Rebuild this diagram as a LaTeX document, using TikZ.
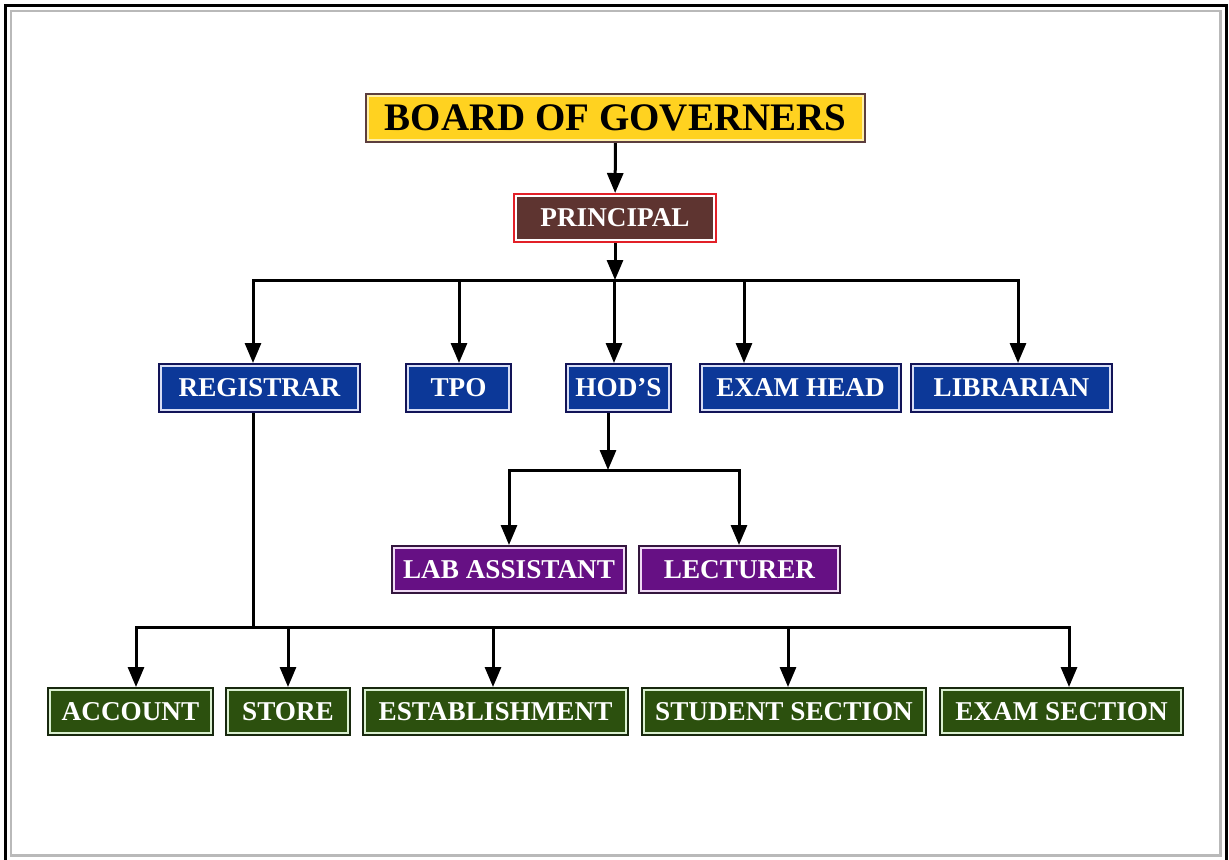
\documentclass[tikz,border=0pt]{standalone}
\usepackage{fontspec}
\setmainfont{Liberation Serif}
\usepackage{tikz}
\usetikzlibrary{arrows.meta}
\usetikzlibrary{positioning}

\definecolor{govfill}{RGB}{255,210,32}
\definecolor{govedge}{RGB}{92,62,62}
\definecolor{govline}{RGB}{255,240,170}
\definecolor{prinfill}{RGB}{94,52,48}
\definecolor{prinedge}{RGB}{226,32,40}
\definecolor{headfill}{RGB}{12,56,152}
\definecolor{headedge}{RGB}{18,20,88}
\definecolor{headline}{RGB}{215,222,245}
\definecolor{stafffill}{RGB}{102,16,132}
\definecolor{staffedge}{RGB}{52,22,62}
\definecolor{staffline}{RGB}{240,218,245}
\definecolor{secfill}{RGB}{44,80,14}
\definecolor{secedge}{RGB}{24,40,14}
\definecolor{secline}{RGB}{218,240,208}

\begin{document}
\begin{tikzpicture}[x=0.5pt, y=-0.5pt,
    unit/.style={rectangle, inner sep=2pt, outer sep=1.5pt, line width=0.8pt,
        text=white, font=\bfseries\fontsize{13.6}{14}\selectfont,
        minimum height=21.5pt},
    governor/.style={unit, fill=govfill, draw=govline, text=black,
        preaction={draw=govedge, line width=3pt},
        font=\bfseries\fontsize{19.5}{20}\selectfont, minimum height=22pt},
    principalbox/.style={unit, fill=prinfill, draw=white,
        preaction={draw=prinedge, line width=3pt}, minimum height=22pt},
    headbox/.style={unit, fill=headfill, draw=headline,
        preaction={draw=headedge, line width=3pt}, minimum height=22pt},
    staffbox/.style={unit, fill=stafffill, draw=staffline,
        preaction={draw=staffedge, line width=3pt}},
    sectionbox/.style={unit, fill=secfill, draw=secline,
        preaction={draw=secedge, line width=3pt}},
    line/.style={draw=black, line width=1.5pt},
    link/.style={line, -{Triangle[width=8pt,length=10pt]}}]

    \clip (0,0) rectangle (1229,859);
    \fill[white] (0,0) rectangle (1229,859);
    \draw[black, line width=1.6pt] (5.5,5.5) rectangle (1226.5,875);
    \draw[gray!55, line width=1.2pt] (11,11) rectangle (1220.5,855.5);

    \node[governor, minimum width=247.5pt] (board) at (615.5,118) {BOARD OF GOVERNERS};
    \node[principalbox, minimum width=99pt] (principal) at (615,218) {PRINCIPAL};

    \node[headbox, minimum width=98.5pt] (registrar) at (259.5,388) {REGISTRAR};
    \node[headbox, minimum width=50.5pt] (tpo) at (458.5,388) {TPO};
    \node[headbox, minimum width=50.5pt] (hods) at (618.5,388) {HOD’S};
    \node[headbox, minimum width=98.5pt] (examhead) at (800.5,388) {EXAM HEAD};
    \node[headbox, minimum width=98.5pt] (librarian) at (1011.5,388) {LIBRARIAN};

    \node[staffbox, minimum width=115pt] (labasst) at (509,569.5) {LAB ASSISTANT};
    \node[staffbox, minimum width=98.5pt] (lecturer) at (739.5,569.5) {LECTURER};

    \node[sectionbox, minimum width=80.5pt] (account) at (130.5,711.5) {ACCOUNT};
    \node[sectionbox, minimum width=60pt] (store) at (288,711.5) {STORE};
    \node[sectionbox, minimum width=130.5pt] (establish) at (495.5,711.5) {ESTABLISHMENT};
    \node[sectionbox, minimum width=140pt] (student) at (784,711.5) {STUDENT SECTION};
    \node[sectionbox, minimum width=119.5pt] (examsec) at (1061.5,711.5) {EXAM SECTION};

    \coordinate (p0) at (615,280);
    \coordinate (p1) at (253,280);
    \coordinate (p2) at (459,280);
    \coordinate (p3) at (614,280);
    \coordinate (p4) at (744,280);
    \coordinate (p5) at (1018,280);

    \coordinate (h0) at (608,470);
    \coordinate (h1) at (509,470);
    \coordinate (h2) at (739,470);

    \coordinate (r0) at (253,627);
    \coordinate (r1) at (136,627);
    \coordinate (r2) at (288,627);
    \coordinate (r3) at (493,627);
    \coordinate (r4) at (788,627);
    \coordinate (r5) at (1069,627);

    \draw[link] (board) -- (principal);
    \draw[link] (principal) -- (p0);
    \draw[link] (p2) -- (p1) -- (p1 |- registrar.north);
    \draw[link] (p1) -- (p5) -- (p5 |- librarian.north);
    \draw[link] (p2) -- (p2 |- tpo.north);
    \draw[link] (p3) -- (p3 |- hods.north);
    \draw[link] (p4) -- (p4 |- examhead.north);

    \draw[link] (h0 |- hods.south) -- (h0);
    \draw[link] (h0) -- (h1) -- (h1 |- labasst.north);
    \draw[link] (h0) -- (h2) -- (h2 |- lecturer.north);

    \draw[line] (r0 |- registrar.south) -- (r0);
    \draw[link] (r0) -- (r1) -- (r1 |- account.north);
    \draw[link] (r0) -- (r5) -- (r5 |- examsec.north);
    \draw[link] (r2) -- (r2 |- store.north);
    \draw[link] (r3) -- (r3 |- establish.north);
    \draw[link] (r4) -- (r4 |- student.north);

\end{tikzpicture}
\end{document}
